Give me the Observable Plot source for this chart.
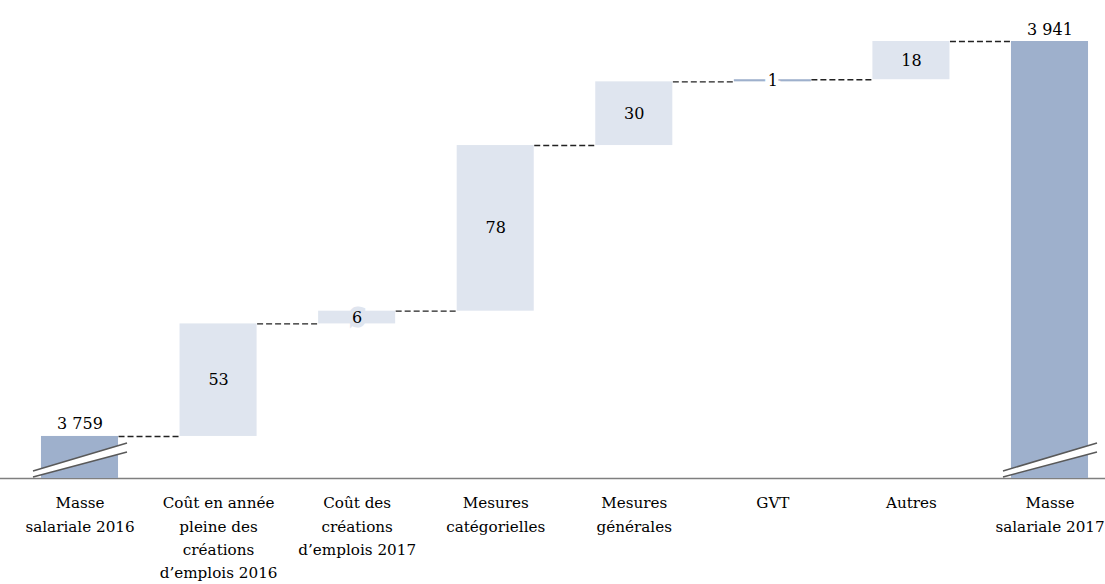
<!DOCTYPE html>
<html><head><meta charset="utf-8">
<script src="https://cdn.jsdelivr.net/npm/d3@7"></script>
<script src="https://cdn.jsdelivr.net/npm/@observablehq/plot@0.6"></script>
<style>body{margin:0;background:#fff}</style>
</head><body><div id="chart"></div>
<script>
const categories = [
  "Masse\nsalariale 2016",
  "Coût en année\npleine des\ncréations\nd’emplois 2016",
  "Coût des\ncréations\nd’emplois 2017",
  "Mesures\ncatégorielles",
  "Mesures\ngénérales",
  "GVT",
  "Autres",
  "Masse\nsalariale 2017"
];
const kinds = ["total", "delta", "delta", "delta", "delta", "delta", "delta", "total"];
const values = [3759, 53, 6, 78, 30, 1, 18, 3941];
const axisBreak = 3739.2; // value at the broken axis' baseline

const blue = "#9eb0cc", light = "#dfe5ef";
const hw = 0.278; // half bar width in category units
const fmt = d3.formatLocale({decimal: ",", thousands: " ", grouping: [3], currency: ["", " €"]}).format(",d");

let running = 0;
const rows = categories.map((c, i) => {
  const v = values[i];
  let y1, y2;
  if (kinds[i] === "total") {
    if (i === 0) running = v;
    y1 = axisBreak; y2 = running;
  } else {
    y1 = running; y2 = running + v; running += v;
  }
  return {i, cat: c, kind: kinds[i], v, y1, y2, label: fmt(v)};
});
const connectors = rows.slice(0, -1).map(d => ({x1: d.i + hw, x2: d.i + 1 - hw, y: d.y2}));
const totals = rows.filter(d => d.kind === "total");
const deltas = rows.filter(d => d.kind === "delta");
const yMax = d3.max(rows, d => d.y2);

function breaks(index, scales) {
  const g = d3.create("svg:g");
  for (const d of totals) {
    const cx = scales.x(d.i), by = scales.y(axisBreak);
    const L = cx - 46.5, R = cx + 47.5;
    g.append("path").attr("fill", "white")
      .attr("d", `M${L},${by - 1}L${R},${by - 26}L${R},${by - 35}L${L},${by - 7}Z`);
    g.append("path").attr("stroke", "#595959").attr("stroke-width", 1.5).attr("fill", "none")
      .attr("d", `M${L},${by - 1}L${R},${by - 26}M${L},${by - 7}L${R},${by - 35}`);
  }
  return g.node();
}

const chart = Plot.plot({
  width: 1105,
  height: 584,
  marginLeft: 79.5,
  marginRight: 55.5,
  marginTop: 41,
  marginBottom: 106,
  style: {fontFamily: "'DejaVu Serif', serif", fontSize: "16px", background: "#fff", color: "#000"},
  x: {domain: [0, 7], axis: null},
  y: {domain: [axisBreak, yMax], axis: null},
  marks: [
    Plot.ruleY([axisBreak], {x1: -0.6, x2: 7.6, stroke: "#7f7f7f", strokeWidth: 1.5}),
    Plot.link(connectors, {x1: "x1", x2: "x2", y1: "y", y2: "y", stroke: "#222", strokeWidth: 1.4, strokeDasharray: "6,3"}),
    Plot.rect(rows, {
      x1: d => d.i - hw, x2: d => d.i + hw, y1: "y1", y2: "y2",
      fill: d => (d.kind === "total" || Math.abs(d.v) < 2) ? blue : light
    }),
    breaks,
    Plot.text(totals, {x: "i", y: "y2", text: "label", lineAnchor: "bottom", dy: -7, fontSize: 16, fill: "#000"}),
    Plot.text(deltas, {
      x: "i", y: d => (d.y1 + d.y2) / 2, text: "label", fontSize: 16, fill: "#000",
      stroke: d => Math.abs(d.v) < 2 ? "white" : light, strokeWidth: 9, strokeLinejoin: "miter"
    }),
    Plot.text(rows, {x: "i", y: axisBreak, text: "cat", lineAnchor: "top", dy: 13, lineHeight: 1.54, fontSize: 15.2, fill: "#000"})
  ]
});
document.getElementById("chart").append(chart);
</script>
</body></html>
